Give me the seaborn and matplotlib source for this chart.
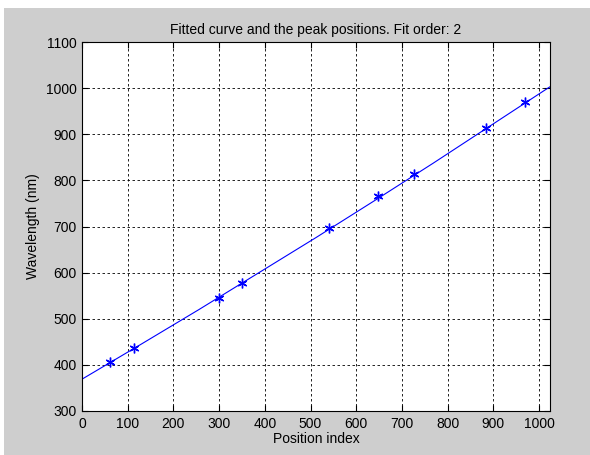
import matplotlib
matplotlib.use("Agg")
import matplotlib.pyplot as plt
import seaborn as sns
from matplotlib.patches import Rectangle

# fitted curve
curve_x = [0, 128, 256, 384, 512, 640, 768, 896, 1024]
curve_y = [369, 444, 520, 598, 676, 756, 837, 920, 1003]

# detected peak positions
peak_x = [62, 113, 300, 349, 541, 648, 726, 883, 969]
peak_y = [406, 436, 546, 577, 697, 766, 813, 914, 969]

x_ticks = list(range(0, 1001, 100))
y_ticks = list(range(300, 1101, 100))

sns.set_theme(style="ticks")
plt.rcParams['font.family'] = ['Liberation Sans', 'DejaVu Sans']
plt.rcParams['text.color'] = 'black'
plt.rcParams['axes.labelcolor'] = 'black'

fig = plt.figure(figsize=(5.9, 4.55), dpi=100, facecolor="white")
# grey figure area with a thin white margin on top / left (screenshot border)
fig.patches.append(Rectangle((4 / 590, 0), 1, 1 - 8 / 455, transform=fig.transFigure,
                             facecolor="#cecece", edgecolor="none", zorder=-10))

ax = fig.add_axes([82 / 590, (455 - 411) / 455, (550 - 82) / 590, (411 - 42) / 455])
ax.set_facecolor("white")

sns.lineplot(x=curve_x, y=curve_y, ax=ax, color="blue", linewidth=0.8, sort=False)
sns.lineplot(x=peak_x, y=peak_y, ax=ax, linestyle="", marker=(6, 2, 0),
             markersize=7, mec="blue", mfc="blue", mew=1.0, color="blue")

ax.set_xlim(0, 1024)
ax.set_ylim(300, 1100)
ax.set_xticks(x_ticks)
ax.set_yticks(y_ticks)
ax.grid(True, color="black", linestyle=(0, (3, 3)), linewidth=0.6)
ax.tick_params(direction="in", length=4, width=0.8, top=True, right=True,
               labelsize=10, colors="black", pad=4)
for s in ax.spines.values():
    s.set_visible(True)
    s.set_color("black")
    s.set_linewidth(0.8)

ax.set_title("Fitted curve and the peak positions. Fit order: 2", fontsize=10,
             pad=6, color="black")
ax.set_xlabel("Position index", fontsize=10, labelpad=1, color="black")
ax.set_ylabel("Wavelength (nm)", fontsize=10, labelpad=4, color="black")

fig.savefig("out.png", dpi=100, facecolor=fig.get_facecolor())
